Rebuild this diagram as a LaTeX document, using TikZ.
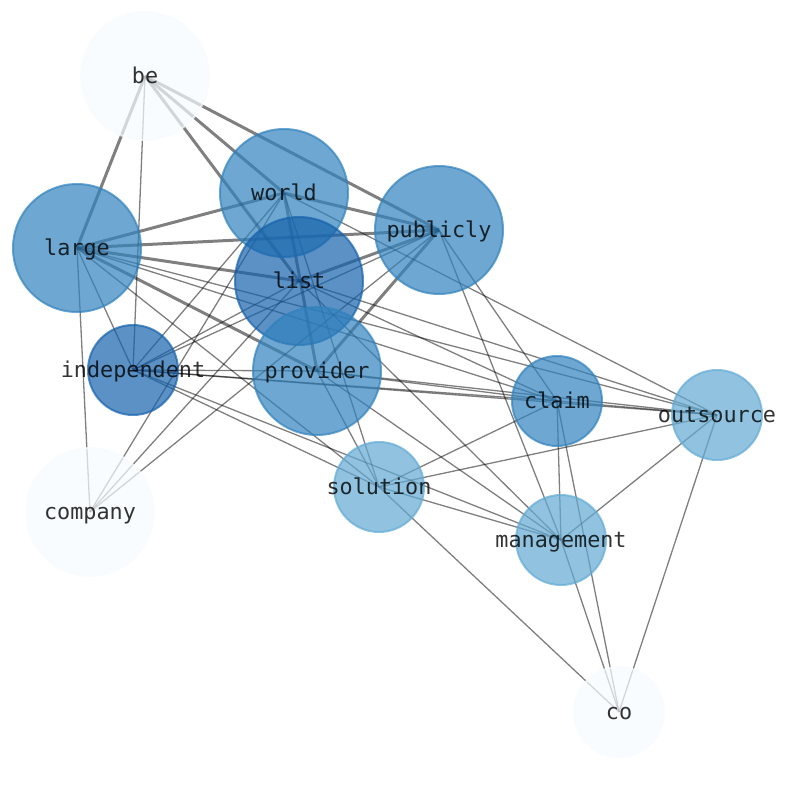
\documentclass[tikz,border=0pt]{standalone}
\usepackage{fontspec}
\setmonofont{DejaVu Sans Mono}
\usetikzlibrary{positioning, calc}
\pgfdeclarelayer{edges}
\pgfsetlayers{edges,main}
\definecolor{wlow}{HTML}{F7FBFF}
\definecolor{wmid}{RGB}{98,170,212}
\definecolor{whigh}{RGB}{49,130,189}
\definecolor{wtop}{RGB}{22,98,172}

\begin{document}
\begin{tikzpicture}[x=1pt, y=-1pt]
		% 定义节点样式
		\tikzstyle{word} = [circle, line width=2pt, fill opacity=0.7, draw opacity=0.7, inner sep=0pt]
		\tikzstyle{big} = [word, minimum size=128pt]
		\tikzstyle{small} = [word, minimum size=90pt]
		\tikzstyle{lbl} = [text=black, text opacity=0.8, font=\ttfamily\fontsize{21.8}{24}\selectfont, text height=15pt, text depth=0pt, inner sep=0pt]
		\tikzstyle{strong} = [line width=3pt, draw=black, draw opacity=0.5]
		\tikzstyle{weak} = [line width=1.3pt, draw=black, draw opacity=0.5]
		
		\useasboundingbox (0,0) rectangle (794,790);
		
		% 绘制节点
		\node [big, draw=wlow, fill=wlow, label={[lbl]center:be}] (be) at (145,76) {};
		\node [big, draw=whigh, fill=whigh, label={[lbl]center:world}] (world) at (284,193) {};
		\node [big, draw=whigh, fill=whigh, label={[lbl]center:publicly}] (publicly) at (439,230) {};
		\node [big, draw=whigh, fill=whigh, label={[lbl]center:large}] (large) at (77,248) {};
		\node [big, draw=wtop, fill=wtop, label={[lbl]center:list}] (list) at (299,281) {};
		\node [big, draw=whigh, fill=whigh, label={[lbl]center:provider}] (provider) at (317,371) {};
		\node [small, draw=wtop, fill=wtop, label={[lbl]center:independent}] (independent) at (133,370) {};
		\node [small, draw=whigh, fill=whigh, label={[lbl]center:claim}] (claim) at (557,401) {};
		\node [small, draw=wmid, fill=wmid, label={[lbl]center:outsource}] (outsource) at (717,415) {};
		\node [small, draw=wmid, fill=wmid, label={[lbl]center:solution}] (solution) at (379,487) {};
		\node [small, draw=wmid, fill=wmid, label={[lbl]center:management}] (management) at (561,540) {};
		\node [big, draw=wlow, fill=wlow, label={[lbl]center:company}] (company) at (90,512) {};
		\node [small, draw=wlow, fill=wlow, label={[lbl]center:co}] (co) at (619,712) {};
		
		% 绘制连线
		\begin{pgfonlayer}{edges}
		\draw [strong] (be.center) -- (large.center);
		\draw [strong] (be.center) -- (list.center);
		\draw [strong] (be.center) -- (world.center);
		\draw [strong] (be.center) -- (publicly.center);
		\draw [weak] (be.center) -- (independent.center);
		\draw [strong] (large.center) -- (world.center);
		\draw [strong] (large.center) -- (publicly.center);
		\draw [strong] (large.center) -- (list.center);
		\draw [strong] (large.center) -- (provider.center);
		\draw [weak] (large.center) -- (independent.center);
		\draw [weak] (large.center) -- (company.center);
		\draw [weak] (large.center) -- (claim.center);
		\draw [weak] (large.center) -- (outsource.center);
		\draw [weak] (large.center) -- (solution.center);
		\draw [strong] (world.center) -- (publicly.center);
		\draw [strong] (world.center) -- (provider.center);
		\draw [weak] (world.center) -- (independent.center);
		\draw [weak] (world.center) -- (company.center);
		\draw [weak] (world.center) -- (outsource.center);
		\draw [weak] (world.center) -- (solution.center);
		\draw [strong] (list.center) -- (publicly.center);
		\draw [weak] (list.center) -- (independent.center);
		\draw [weak] (list.center) -- (company.center);
		\draw [weak] (list.center) -- (claim.center);
		\draw [weak] (list.center) -- (outsource.center);
		\draw [weak] (list.center) -- (management.center);
		\draw [strong] (provider.center) -- (publicly.center);
		\draw [weak] (publicly.center) -- (independent.center);
		\draw [weak] (publicly.center) -- (company.center);
		\draw [weak] (publicly.center) -- (claim.center);
		\draw [weak] (publicly.center) -- (management.center);
		\draw [weak] (provider.center) -- (independent.center);
		\draw [weak] (provider.center) -- (claim.center);
		\draw [weak] (provider.center) -- (outsource.center);
		\draw [weak] (provider.center) -- (solution.center);
		\draw [weak] (provider.center) -- (management.center);
		\draw [weak] (independent.center) -- (claim.center);
		\draw [weak] (independent.center) -- (outsource.center);
		\draw [weak] (independent.center) -- (solution.center);
		\draw [weak] (independent.center) -- (management.center);
		\draw [weak] (claim.center) -- (solution.center);
		\draw [weak] (claim.center) -- (management.center);
		\draw [weak] (claim.center) -- (outsource.center);
		\draw [weak] (claim.center) -- (co.center);
		\draw [weak] (solution.center) -- (outsource.center);
		\draw [weak] (solution.center) -- (management.center);
		\draw [weak] (solution.center) -- (co.center);
		\draw [weak] (management.center) -- (outsource.center);
		\draw [weak] (management.center) -- (co.center);
		\draw [weak] (outsource.center) -- (co.center);
		\end{pgfonlayer}
\end{tikzpicture}
\end{document}
